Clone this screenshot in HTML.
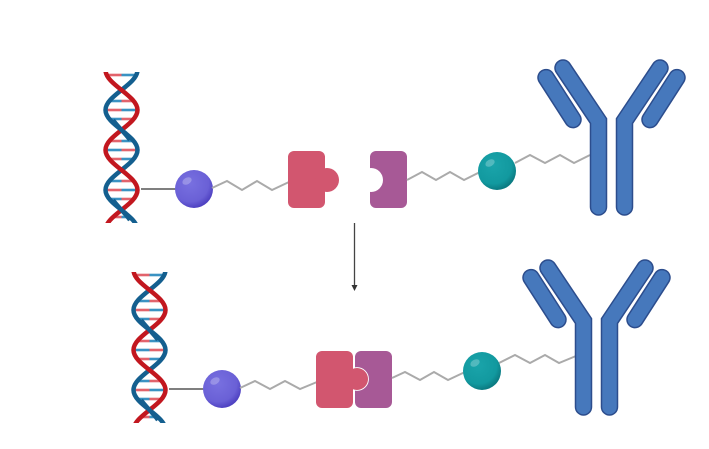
<!DOCTYPE html>
<html><head><meta charset="utf-8"><style>
html,body{margin:0;padding:0;background:#fff;}
svg{display:block;}
</style></head><body>
<svg width="709" height="449" viewBox="0 0 709 449" xmlns="http://www.w3.org/2000/svg">
<defs>
  <radialGradient id="gp" cx="40%" cy="35%" r="65%">
    <stop offset="0" stop-color="#7870e0"/>
    <stop offset="0.75" stop-color="#6a60d6"/>
    <stop offset="1" stop-color="#4f42c2"/>
  </radialGradient>
  <radialGradient id="gt" cx="40%" cy="35%" r="65%">
    <stop offset="0" stop-color="#1aa4aa"/>
    <stop offset="0.75" stop-color="#12999f"/>
    <stop offset="1" stop-color="#0b7b82"/>
  </radialGradient>
  <clipPath id="dnaclip"><rect x="100" y="72" width="45" height="151"/></clipPath>
  <g id="dna">
    <g clip-path="url(#dnaclip)">
      <g stroke-width="2.6" fill="none">
        <path d="M106.7,75 H121.5" stroke="#e2636c"/><path d="M121.5,75 H136.3" stroke="#3a92c2"/>
        <path d="M109.3,101 H121.5" stroke="#3a92c2"/><path d="M121.5,101 H133.7" stroke="#e2636c"/>
        <path d="M105.5,110 H121.5" stroke="#e2636c"/><path d="M121.5,110 H137.5" stroke="#3a92c2"/>
        <path d="M109.3,119 H121.5" stroke="#3a92c2"/><path d="M121.5,119 H133.7" stroke="#e2636c"/>
        <path d="M109.3,141 H121.5" stroke="#e2636c"/><path d="M121.5,141 H133.7" stroke="#3a92c2"/>
        <path d="M105.5,150 H121.5" stroke="#3a92c2"/><path d="M121.5,150 H137.5" stroke="#e2636c"/>
        <path d="M109.3,159 H121.5" stroke="#e2636c"/><path d="M121.5,159 H133.7" stroke="#3a92c2"/>
        <path d="M109.3,181 H121.5" stroke="#3a92c2"/><path d="M121.5,181 H133.7" stroke="#e2636c"/>
        <path d="M105.5,190 H121.5" stroke="#e2636c"/><path d="M121.5,190 H137.5" stroke="#3a92c2"/>
        <path d="M109.3,199 H121.5" stroke="#3a92c2"/><path d="M121.5,199 H133.7" stroke="#e2636c"/>
        <path d="M113.1,217 H121.5" stroke="#e2636c"/><path d="M121.5,217 H129.9" stroke="#3a92c2"/>
      </g>
      <path d="M137.5,70 C137.5,84.6 105.5,95.4 105.5,110 C105.5,124.6 137.5,135.4 137.5,150 C137.5,164.6 105.5,175.4 105.5,190 C105.5,204.6 137.5,215.4 137.5,230" fill="none" stroke="#145f8f" stroke-width="4.5"/>
      <path d="M105.5,70 C105.5,84.6 137.5,95.4 137.5,110 C137.5,124.6 105.5,135.4 105.5,150 C105.5,164.6 137.5,175.4 137.5,190 C137.5,204.6 105.5,215.4 105.5,230" fill="none" stroke="#c2171f" stroke-width="4.5"/>
      <path d="M113,120 C117,126 126,134 130,140" fill="none" stroke="#145f8f" stroke-width="4.5"/>
      <path d="M113,200 C117,206 126,214 130,220" fill="none" stroke="#145f8f" stroke-width="4.5"/>
    </g>
  </g>
  <g id="ab" fill="none" stroke-linecap="round" stroke-linejoin="miter" stroke-miterlimit="4">
    <g stroke="#2c4d8d" stroke-width="17.5">
      <path d="M598.5,207 L598.5,121 L563,68"/>
      <path d="M624.5,207 L624.5,121 L660,68"/>
      <path d="M546,77.6 L573,119.6"/>
      <path d="M677,77.6 L650,119.6"/>
    </g>
    <g stroke="#4678bc" stroke-width="14.5">
      <path d="M598.5,207 L598.5,121 L563,68"/>
      <path d="M624.5,207 L624.5,121 L660,68"/>
      <path d="M546,77.6 L573,119.6"/>
      <path d="M677,77.6 L650,119.6"/>
    </g>
  </g>
</defs>

<!-- TOP ROW -->
<use href="#dna"/>
<path d="M141,189 H177" stroke="#555" stroke-width="1.6"/>
<circle cx="194" cy="189" r="19" fill="url(#gp)"/>
<ellipse cx="187" cy="181" rx="5" ry="3.3" fill="#fff" opacity="0.25" transform="rotate(-30 187 181)"/>
<polyline points="212,188 227,181 242,190 257,181 272,190 289,182" fill="none" stroke="#aaa" stroke-width="2"/>
<rect x="288" y="151" width="37" height="57" rx="6" fill="#d2566f"/>
<circle cx="327" cy="180" r="12" fill="#d2566f"/>
<rect x="370" y="151" width="37" height="57" rx="6" fill="#a75996"/>
<circle cx="371" cy="180" r="12" fill="#fff"/>
<polyline points="407,180 422,172 436,180 450,172 464,180 480,172" fill="none" stroke="#aaa" stroke-width="2"/>
<polyline points="515,163 530,155 545,163 560,155 574,163 590,155" fill="none" stroke="#aaa" stroke-width="2"/>
<circle cx="497" cy="171" r="19" fill="url(#gt)"/>
<ellipse cx="490" cy="163" rx="5" ry="3.3" fill="#fff" opacity="0.25" transform="rotate(-30 490 163)"/>
<use href="#ab"/>

<!-- ARROW -->
<line x1="354.5" y1="223" x2="354.5" y2="286" stroke="#444" stroke-width="1.3"/>
<polygon points="351.5,285 357.5,285 354.5,291" fill="#333"/>

<!-- BOTTOM ROW -->
<use href="#dna" transform="translate(28,200)"/>
<path d="M169,389 H205" stroke="#555" stroke-width="1.6"/>
<circle cx="222" cy="389" r="19" fill="url(#gp)"/>
<ellipse cx="215" cy="381" rx="5" ry="3.3" fill="#fff" opacity="0.25" transform="rotate(-30 215 381)"/>
<polyline points="240,388 255,381 270,389 285,381 300,389 317,382" fill="none" stroke="#aaa" stroke-width="2"/>
<rect x="355" y="351" width="37" height="57" rx="6" fill="#a75996"/>
<circle cx="357" cy="379" r="11" fill="#d2566f" stroke="#fff" stroke-width="1.8"/>
<rect x="316" y="351" width="37" height="57" rx="6" fill="#d2566f"/>
<circle cx="357" cy="379" r="11" fill="#d2566f"/>
<polyline points="392,378 405,372 420,380 434,372 448,380 465,372" fill="none" stroke="#aaa" stroke-width="2"/>
<polyline points="499,363 515,355 530,363 545,355 559,363 576,356" fill="none" stroke="#aaa" stroke-width="2"/>
<circle cx="482" cy="371" r="19" fill="url(#gt)"/>
<ellipse cx="475" cy="363" rx="5" ry="3.3" fill="#fff" opacity="0.25" transform="rotate(-30 475 363)"/>
<use href="#ab" transform="translate(-15,200)"/>
</svg>
</body></html>
